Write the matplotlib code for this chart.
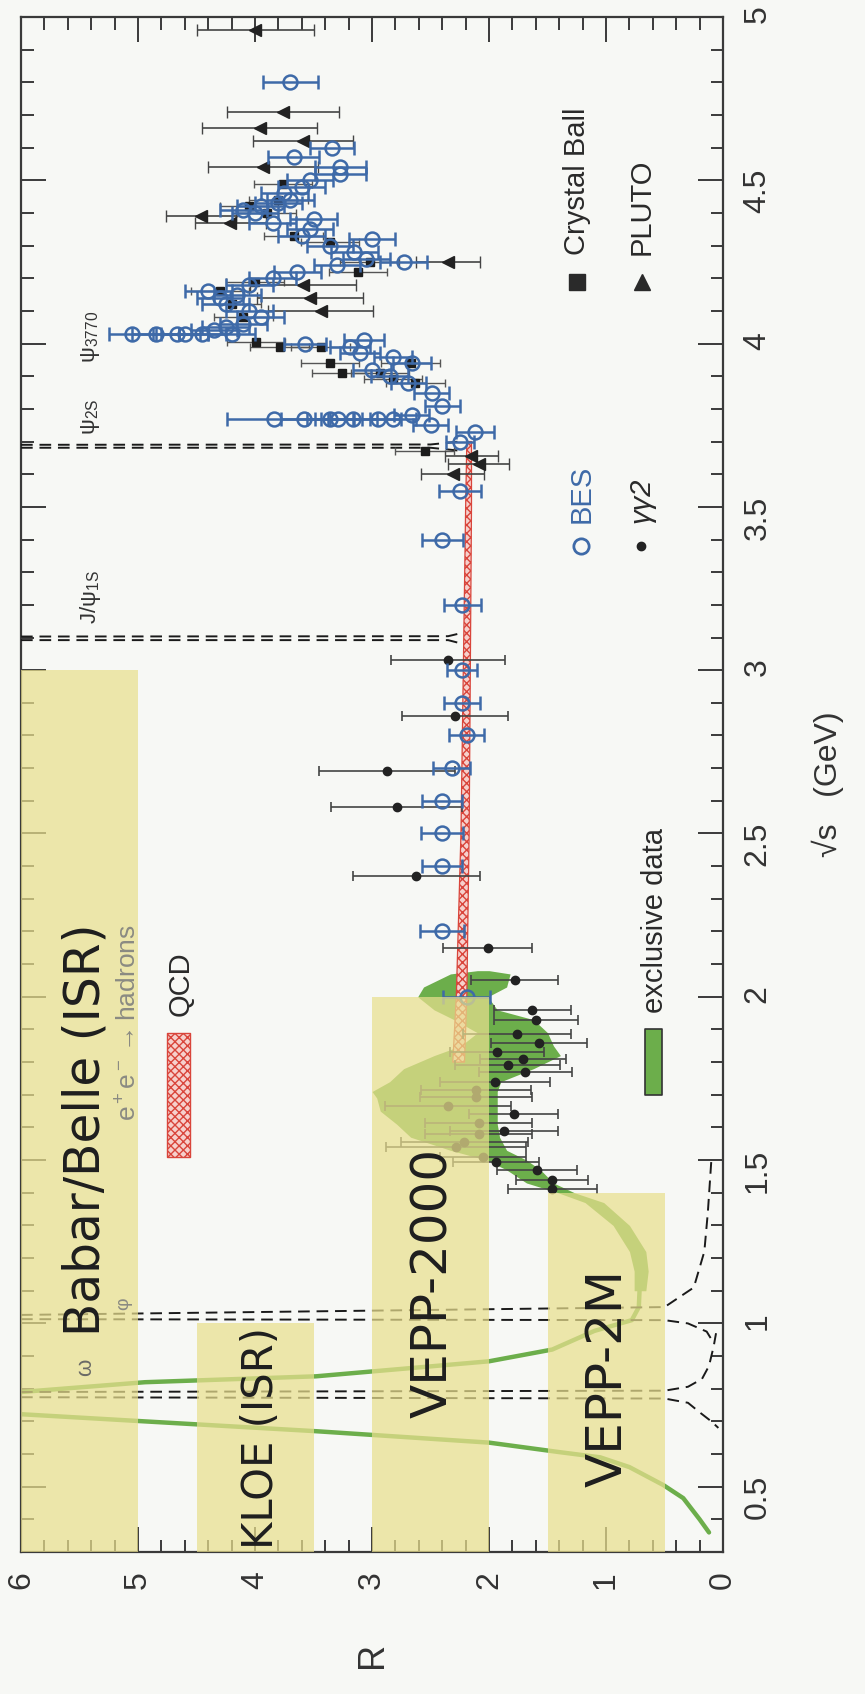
import matplotlib
matplotlib.use("Agg")
import matplotlib.pyplot as plt
from matplotlib.ticker import MultipleLocator

plt.rcParams['font.family'] = ['Liberation Sans', 'DejaVu Sans']
plt.rcParams['mathtext.fontset'] = 'custom'
plt.rcParams['mathtext.rm'] = 'Liberation Sans'
plt.rcParams['mathtext.it'] = 'Liberation Sans:italic'

# ---- data (x = R, y = sqrt(s) in GeV; the picture is turned by 90 degrees) ----

# exclusive data: thin line part
excl_line_s = [0.36, 0.40, 0.465, 0.505, 0.56, 0.59, 0.606, 0.635, 0.67, 0.70, 0.722,
               0.745, 0.775, 0.79, 0.82, 0.838, 0.884, 0.92, 0.977, 1.01, 1.05, 1.13]
excl_line_R = [0.12, 0.20, 0.34, 0.51, 0.80, 1.05, 1.40, 2.0, 3.48, 4.94, 6.0,
               6.8, 6.8, 6.0, 4.94, 3.48, 2.0, 1.46, 1.10, 0.78, 0.72, 0.71]
# exclusive data: wide band part
excl_band_s = [1.10, 1.16, 1.22, 1.30, 1.37, 1.40, 1.43, 1.47, 1.50, 1.53, 1.57, 1.61, 1.65,
               1.69, 1.71, 1.74, 1.78, 1.82, 1.85, 1.89, 1.93, 1.96, 2.00, 2.03, 2.07, 2.08]
excl_band_lo = [0.66, 0.64, 0.66, 0.80, 1.02, 1.27, 1.45, 1.56, 1.68, 1.85, 1.91, 1.93, 1.93,
                1.93, 1.93, 1.90, 1.62, 1.39, 1.45, 1.50, 1.62, 1.93, 2.01, 1.85, 1.82, 2.00]
excl_band_hi = [0.76, 0.76, 0.80, 0.94, 1.18, 1.41, 1.68, 1.85, 2.02, 2.33, 2.67, 2.79, 2.93,
                2.96, 3.00, 2.85, 2.73, 2.47, 2.24, 2.10, 2.30, 2.47, 2.61, 2.56, 2.33, 2.10]

# QCD band
qcd_s = [1.80, 2.00, 2.50, 3.00, 3.50, 3.70]
qcd_lo = [2.21, 2.19, 2.17, 2.16, 2.15, 2.15]
qcd_hi = [2.31, 2.28, 2.24, 2.22, 2.20, 2.19]

# narrow resonances (dashed), two sides each
res_lines = {
    'rho_a': ([6.0, 0.5, 0.3, 0.19, 0.1, 0.04], [0.774, 0.770, 0.757, 0.725, 0.70, 0.68]),
    'rho_b': ([6.0, 0.5, 0.3, 0.18, 0.12, 0.08, 0.06], [0.790, 0.794, 0.806, 0.83, 0.87, 0.93, 0.97]),
    'phi_a': ([6.0, 0.5, 0.3, 0.14, 0.08], [1.013, 1.010, 1.0, 0.975, 0.94]),
    'phi_b': ([6.0, 0.5, 0.25, 0.16, 0.13, 0.10], [1.026, 1.05, 1.11, 1.22, 1.34, 1.5]),
    'jpsi_a': ([6.0, 2.35, 2.22], [3.092, 3.092, 3.08]),
    'jpsi_b': ([6.0, 2.35, 2.22], [3.103, 3.104, 3.115]),
    'psi2s_a': ([6.0, 2.5, 2.25], [3.681, 3.681, 3.672]),
    'psi2s_b': ([6.0, 2.5, 2.25], [3.690, 3.691, 3.70]),
}

# BES
bes_s = [2.00, 2.20, 2.40, 2.50, 2.60, 2.70, 2.80, 2.90, 3.00, 3.20, 3.40, 3.55, 3.70, 3.73,
         3.75, 3.77, 3.77, 3.77, 3.77, 3.77, 3.77, 3.77, 3.78, 3.81, 3.85, 3.88, 3.90, 3.92,
         3.94, 3.96, 3.97, 3.99, 4.00, 4.01, 4.03, 4.03, 4.03, 4.03, 4.03, 4.03, 4.04, 4.05,
         4.06, 4.08, 4.10, 4.12, 4.14, 4.15, 4.16, 4.18, 4.20, 4.22, 4.24, 4.25, 4.26, 4.28,
         4.30, 4.32, 4.33, 4.35, 4.37, 4.38, 4.40, 4.41, 4.42, 4.43, 4.44, 4.46, 4.48, 4.50,
         4.52, 4.54, 4.57, 4.60, 4.80]
bes_R = [2.19, 2.40, 2.40, 2.40, 2.40, 2.32, 2.19, 2.23, 2.23, 2.23, 2.40, 2.25, 2.25, 2.12,
         2.50, 3.84, 3.58, 3.36, 3.29, 3.16, 2.95, 2.82, 2.66, 2.40, 2.49, 2.69, 2.85, 3.00,
         2.66, 2.82, 3.10, 3.19, 3.57, 3.07, 4.20, 4.45, 4.60, 4.67, 4.85, 5.05, 4.35, 4.25,
         4.10, 3.95, 4.05, 4.25, 4.30, 4.15, 4.40, 4.05, 3.85, 3.64, 3.30, 2.73, 3.05, 3.15,
         3.36, 3.00, 3.60, 3.53, 3.85, 3.50, 4.00, 4.10, 3.95, 3.80, 3.70, 3.75, 3.60, 3.53,
         3.27, 3.27, 3.67, 3.34, 3.70]
bes_err = [0.20, 0.19, 0.17, 0.18, 0.17, 0.16, 0.15, 0.155, 0.13, 0.157, 0.175, 0.177, 0.12, 0.16,
           0.15, 0.40, 0.20, 0.20, 0.20, 0.20, 0.20, 0.20, 0.15, 0.15, 0.15, 0.15, 0.16, 0.16,
           0.16, 0.16, 0.17, 0.17, 0.18, 0.17, 0.20, 0.20, 0.20, 0.20, 0.20, 0.20, 0.20, 0.20,
           0.20, 0.20, 0.20, 0.20, 0.20, 0.20, 0.20, 0.20, 0.20, 0.20, 0.20, 0.20, 0.20, 0.20,
           0.20, 0.20, 0.20, 0.20, 0.20, 0.20, 0.20, 0.20, 0.20, 0.20, 0.20, 0.20, 0.20, 0.20,
           0.22, 0.22, 0.22, 0.19, 0.235]

# gamma gamma 2
gg2_s = [1.41, 1.44, 1.47, 1.494, 1.51, 1.54, 1.556, 1.58, 1.59, 1.613, 1.64, 1.665, 1.693,
         1.716, 1.74, 1.77, 1.79, 1.81, 1.83, 1.86, 1.885, 1.93, 1.96, 2.05, 2.15, 2.37,
         2.58, 2.69, 2.86, 3.03]
gg2_R = [1.46, 1.46, 1.59, 1.94, 2.05, 2.28, 2.21, 2.09, 1.87, 2.09, 1.79, 2.35, 2.11,
         2.11, 1.95, 1.69, 1.84, 1.71, 1.93, 1.57, 1.76, 1.60, 1.63, 1.78, 2.01, 2.62,
         2.79, 2.87, 2.29, 2.35]
gg2_err = [0.38, 0.31, 0.34, 0.37, 0.37, 0.60, 0.54, 0.46, 0.46, 0.46, 0.38, 0.54, 0.48,
           0.47, 0.47, 0.40, 0.45, 0.37, 0.40, 0.41, 0.46, 0.36, 0.33, 0.37, 0.38, 0.54,
           0.56, 0.58, 0.45, 0.49]

# Crystal Ball
cb_s = [3.67, 3.88, 3.89, 3.91, 3.91, 3.94, 3.94, 3.99, 3.99, 4.006, 4.08, 4.12, 4.16,
        4.19, 4.22, 4.25, 4.31, 4.33, 4.40, 4.42, 4.44, 4.49]
cb_R = [2.55, 2.63, 2.82, 3.26, 2.93, 2.67, 3.36, 3.44, 3.79, 3.99, 4.10, 4.20, 4.30,
        4.00, 3.12, 3.02, 3.36, 3.67, 3.90, 4.05, 3.80, 3.76]
cb_err = [0.25] * len(cb_s)

# PLUTO
pluto_s = [3.60, 3.63, 3.656, 4.10, 4.14, 4.18, 4.25, 4.37, 4.39, 4.54, 4.62, 4.66, 4.71, 4.96]
pluto_R = [2.31, 2.09, 2.15, 3.44, 3.53, 3.59, 2.35, 4.21, 4.46, 3.93, 3.59, 3.96, 3.76, 4.00]
pluto_err = [0.27, 0.26, 0.23, 0.45, 0.45, 0.45, 0.27, 0.30, 0.30, 0.47, 0.43, 0.49, 0.48, 0.50]

# accelerator coverage boxes: (label, R range, sqrt(s) range)
boxes = [
    ('Babar/Belle (ISR)', (5.0, 6.0), (0.3, 3.0)),
    ('KLOE (ISR)', (3.5, 4.5), (0.3, 1.0)),
    ('VEPP-2000', (2.0, 3.0), (0.3, 2.0)),
    ('VEPP-2M', (0.5, 1.5), (0.3, 1.4)),
]

# ---- figure ----
bg = '#f7f8f5'
fig = plt.figure(figsize=(8.65, 16.94), dpi=100, facecolor=bg)
ax = fig.add_axes([0.0243, 0.0838, 0.8116, 0.9062], facecolor=bg)

ax.set_xlim(6, 0)
ax.set_ylim(0.3, 5.0)

green = '#6cae4b'
ax.plot(excl_line_R, excl_line_s, color=green, lw=3.2, solid_capstyle='round', zorder=2)
ax.fill_betweenx(excl_band_s, excl_band_lo, excl_band_hi, color=green, lw=0, zorder=2)

for name, (rr, ss) in res_lines.items():
    ax.plot(rr, ss, color='#1a1a1a', lw=1.4, dashes=(6, 3.5), zorder=3)

ax.fill_betweenx(qcd_s, qcd_lo, qcd_hi, facecolor='#f6d0cc', edgecolor='#d9453b',
                 hatch='xxxx', lw=0.9, zorder=3)

ax.errorbar(gg2_R, gg2_s, xerr=gg2_err, fmt='o', ms=6, color='#222222', ecolor='#444444',
            elinewidth=1.2, capsize=3.5, capthick=1.2, zorder=4)
ax.errorbar(cb_R, cb_s, xerr=cb_err, fmt='s', ms=5.5, color='#1c1c1c', ecolor='#555555',
            elinewidth=1.0, capsize=3, zorder=4)
ax.errorbar(pluto_R, pluto_s, xerr=pluto_err, fmt='<', ms=8, color='#222222', ecolor='#444444',
            elinewidth=1.2, capsize=4, zorder=4)
bes_col = '#3e6aa8'
ax.errorbar(bes_R, bes_s, xerr=bes_err, fmt='o', ms=10, mfc='none', mec=bes_col, mew=1.8,
            ecolor=bes_col, elinewidth=1.8, capsize=5, capthick=1.8, zorder=5)

# yellow coverage boxes over the data
for label, (r0, r1), (s0, s1) in boxes:
    ax.fill_betweenx([s0, s1], r0, r1, color='#e9df8e', alpha=0.72, lw=0, zorder=6)

# ---- annotations ----
big = dict(rotation=90, rotation_mode='anchor', ha='left', va='center',
           family=['DejaVu Sans'], color='#1e1e1e', zorder=8)
ax.text(5.45, 0.96, 'Babar/Belle (ISR)', fontsize=35, **big)
ax.text(3.95, 0.31, 'KLOE (ISR)', fontsize=30, **big)
ax.text(2.48, 0.71, 'VEPP-2000', fontsize=36, **big)
ax.text(0.99, 0.50, 'VEPP-2M', fontsize=36, **big)

small = dict(rotation=90, rotation_mode='anchor', ha='left', va='center', zorder=8)
ax.text(5.08, 1.62, r'e$^+$e$^-$$\rightarrow$hadrons', fontsize=19, color='#8a8a82', **small)
ax.text(5.45, 0.84, 'ω', fontsize=16, color='#6a6a66', **small)
ax.text(5.12, 1.04, 'φ', fontsize=14, color='#8a8a82', **small)
ax.text(5.41, 3.14, r'J/ψ$_{\rm 1S}$', fontsize=16, color='#333333', **small)
ax.text(5.41, 3.72, r'ψ$_{\rm 2S}$', fontsize=16, color='#333333', **small)
ax.text(5.41, 3.94, r'ψ$_{3770}$', fontsize=16, color='#333333', **small)

# hand-made legend keys
leg = dict(rotation=90, rotation_mode='anchor', ha='left', va='center', fontsize=21, zorder=8)
ax.plot([1.25], [4.19], 's', ms=12, color='#2a2a2a', zorder=8)
ax.text(1.25, 4.27, 'Crystal Ball', color='#2a2a2a', **leg)
ax.plot([0.69], [4.19], '^', ms=12, color='#2a2a2a', zorder=8)
ax.text(0.70, 4.27, 'PLUTO', color='#2a2a2a', **leg)
ax.plot([1.21], [3.38], 'o', ms=11, mfc='none', mec=bes_col, mew=2, zorder=8)
ax.text(1.21, 3.45, 'BES', color=bes_col, **leg)
ax.plot([0.70], [3.38], 'o', ms=6, color='#222222', zorder=8)
ax.text(0.70, 3.45, 'γγ2', color='#2a2a2a', style='italic', **leg)
ax.fill_betweenx([1.70, 1.90], 0.52, 0.67, facecolor=green, edgecolor='#333333', lw=1.2, zorder=8)
ax.text(0.58, 1.95, 'exclusive data', color='#2a2a2a', **leg)
ax.fill_betweenx([1.51, 1.89], 4.56, 4.75, facecolor='#f6d0cc', edgecolor='#d9453b',
                 hatch='xxxx', lw=1.0, zorder=8)
ax.text(4.64, 1.94, 'QCD', color='#2a2a2a', **leg)

# ---- axes styling ----
ax.xaxis.set_major_locator(MultipleLocator(1))
ax.xaxis.set_minor_locator(MultipleLocator(0.2))
ax.yaxis.set_major_locator(MultipleLocator(0.5))
ax.yaxis.set_minor_locator(MultipleLocator(0.1))
ax.yaxis.set_major_formatter(plt.FuncFormatter(lambda v, p: f'{v:g}'))
ax.tick_params(which='both', direction='in', top=True, bottom=True, left=True, right=True,
               labelleft=False, labelright=True, labelbottom=True, labeltop=False,
               color='#3a3a3a', width=1.4)
ax.tick_params(which='major', length=18, pad=14, labelsize=23, labelcolor='#333333',
               labelrotation=90)
ax.tick_params(which='minor', length=9)
for sp in ax.spines.values():
    sp.set_color('#3a3a3a')
    sp.set_linewidth(1.6)

ax.set_xlabel('R', rotation=90, fontsize=26, color='#333333', labelpad=38)
ax.yaxis.set_label_position('right')
ax.set_ylabel('√s   (GeV)', rotation=90, fontsize=23, color='#333333', labelpad=28)

fig.savefig('out.png', dpi=100, facecolor=bg)
